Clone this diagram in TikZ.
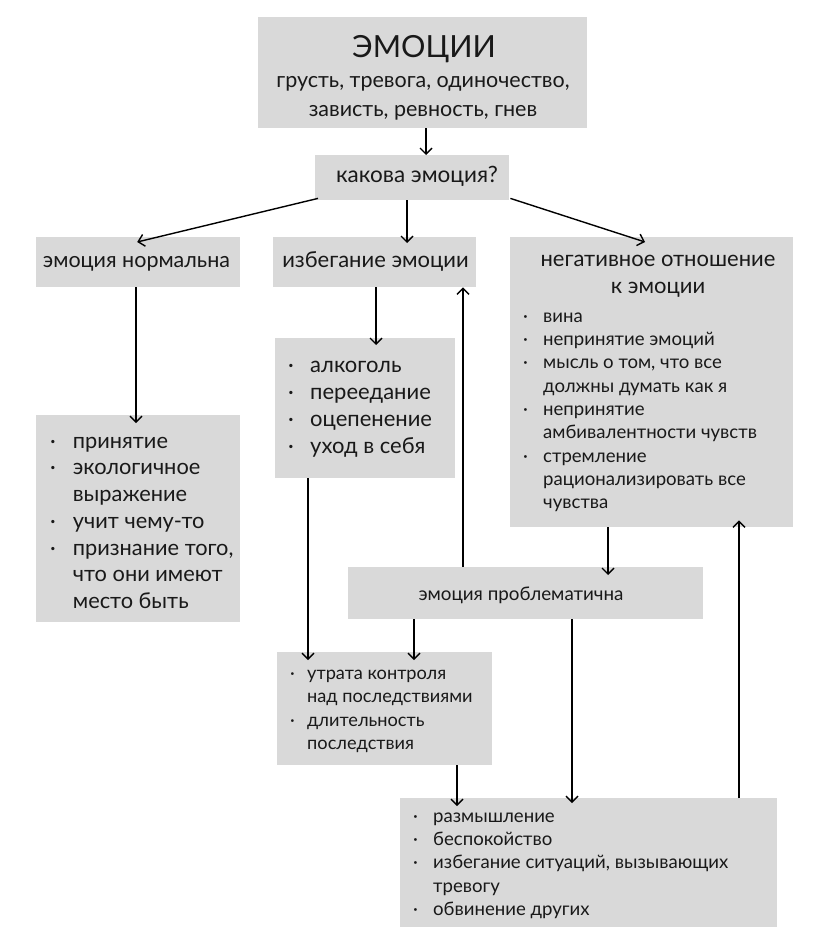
\documentclass[tikz,border=0pt]{standalone}
\usepackage{fontspec}
\setmainfont{Lato}
\usetikzlibrary{arrows.meta,calc}
\definecolor{boxgray}{RGB}{217,217,217}
\definecolor{textc}{RGB}{25,25,25}
\newlength\bw
\newcommand\bi{\makebox[\bw][l]{·}}
\newcommand\ci{\hspace*{\bw}}
\begin{document}
\begin{tikzpicture}[x=1pt,y=-1pt,
  box/.style={fill=boxgray, draw=none, inner sep=0pt, anchor=north west},
  txt/.style={inner sep=0pt, text=textc},
  lst/.style={txt, align=left, anchor=north west},
  arr/.style={draw=black, line width=1.4pt, -{Straight Barb[length=6pt,width=12pt]}}]
\useasboundingbox[fill=white] (0,0) rectangle (829,950);
% boxes
\node[box, minimum width=329pt, minimum height=111pt] (top) at (258,17) {};
\node[box, minimum width=194pt, minimum height=45pt] (kak) at (315,155) {};
\node[box, minimum width=204pt, minimum height=50pt] (norm) at (36,237) {};
\node[box, minimum width=203pt, minimum height=50pt] (izb) at (273,237) {};
\node[box, minimum width=283pt, minimum height=290pt] (neg) at (510,237) {};
\node[box, minimum width=204pt, minimum height=207pt] (normlist) at (36,415) {};
\node[box, minimum width=180pt, minimum height=140pt] (alko) at (275,338) {};
\node[box, minimum width=355pt, minimum height=52pt] (probl) at (348,567) {};
\node[box, minimum width=215pt, minimum height=113pt] (utr) at (277,652) {};
\node[box, minimum width=377pt, minimum height=129pt] (bot) at (400,798) {};
% texts
\node[txt, font=\fontsize{30.5}{31}\selectfont, anchor=base] (ttitle) at (424,58) {ЭМОЦИИ};
\node[txt, font=\fontsize{21.5}{29}\selectfont, align=center, anchor=north] (tsub) at (423,67)
  {\rule{0pt}{20pt}грусть, тревога, одиночество,\\зависть, ревность, гнев};
\node[txt, font=\fontsize{22.5}{24}\selectfont, anchor=base] (tkak) at (417,182) {какова эмоция?};
\node[txt, font=\fontsize{21.5}{24}\selectfont, anchor=base] (tnorm) at (136.5,267) {эмоция нормальна};
\node[txt, font=\fontsize{22}{24}\selectfont, anchor=base] (tizb) at (375.5,267) {избегание эмоции};
\node[txt, font=\fontsize{22}{27}\selectfont, align=center, anchor=north] (tneg) at (658,246)
  {\rule{0pt}{20pt}негативное отношение\\к эмоции};
\setlength\bw{20pt}
\node[lst, font=\fontsize{18.6}{23.3}\selectfont] (tneglist) at (523,304)
  {\rule{0pt}{18pt}\bi вина\\ \bi непринятие эмоций\\ \bi мысль о том, что все\\ \ci должны думать как я\\
   \bi непринятие\\ \ci амбивалентности чувств\\ \bi стремление\\ \ci рационализировать все\\ \ci чувства};
\setlength\bw{22.7pt}
\node[lst, font=\fontsize{21.8}{26.7}\selectfont] (tnormlist) at (50,428)
  {\rule{0pt}{20pt}\bi принятие\\ \bi экологичное\\ \ci выражение\\ \bi учит чему-то\\
   \bi признание того,\\ \ci что они имеют\\ \ci место быть};
\setlength\bw{22pt}
\node[lst, font=\fontsize{22}{27}\selectfont] (talko) at (288,352)
  {\rule{0pt}{20pt}\bi алкоголь\\ \bi переедание\\ \bi оцепенение\\ \bi уход в себя};
\node[txt, font=\fontsize{18.8}{20}\selectfont, anchor=base] (tprobl) at (521,600) {эмоция проблематична};
\setlength\bw{17pt}
\node[lst, font=\fontsize{18.2}{23.4}\selectfont] (tutr) at (290,661)
  {\rule{0pt}{18pt}\bi утрата контроля\\ \ci над последствиями\\ \bi длительность\\ \ci последствия};
\setlength\bw{20pt}
\node[lst, font=\fontsize{18.6}{23.3}\selectfont] (tbot) at (413,804)
  {\rule{0pt}{18pt}\bi размышление\\ \bi беспокойство\\ \bi избегание ситуаций, вызывающих\\ \ci тревогу\\ \bi обвинение других};
% column coordinates
\coordinate (c426) at (426,0);
\coordinate (c407) at (407,0);
\coordinate (c136) at (136,0);
\coordinate (c376) at (376,0);
\coordinate (c463) at (463,0);
\coordinate (c308) at (308,0);
\coordinate (c414) at (414,0);
\coordinate (c608) at (608,0);
\coordinate (c572) at (572,0);
\coordinate (c457) at (457,0);
\coordinate (c739) at (739,0);
% arrows
\draw[arr] (top.south -| c426) -- (kak.north -| c426);
\draw[arr] ($(kak.south west)+(3,-2)$) -- ($(norm.north)+(-1,5)$);
\draw[arr] (kak.south -| c407) -- ($(izb.north -| c407)+(0,6)$);
\draw[arr] ($(kak.south east)+(1,-2)$) -- ($(neg.north west)+(135,5)$);
\draw[arr] (norm.south -| c136) -- ($(normlist.north -| c136)+(0,8)$);
\draw[arr] (izb.south -| c376) -- ($(alko.north -| c376)+(0,7)$);
\draw[arr] (probl.north -| c463) -- (izb.south -| c463);
\draw[arr] (alko.south -| c308) -- ($(utr.north -| c308)+(0,8)$);
\draw[arr] (probl.south -| c414) -- ($(utr.north -| c414)+(0,8)$);
\draw[arr] (neg.south -| c608) -- ($(probl.north -| c608)+(0,8)$);
\draw[arr] (probl.south -| c572) -- ($(bot.north -| c572)+(0,5)$);
\draw[arr] (utr.south -| c457) -- ($(bot.north -| c457)+(0,8)$);
\draw[arr] (bot.north -| c739) -- ($(neg.south -| c739)+(0,-7)$);
\end{tikzpicture}
\end{document}
